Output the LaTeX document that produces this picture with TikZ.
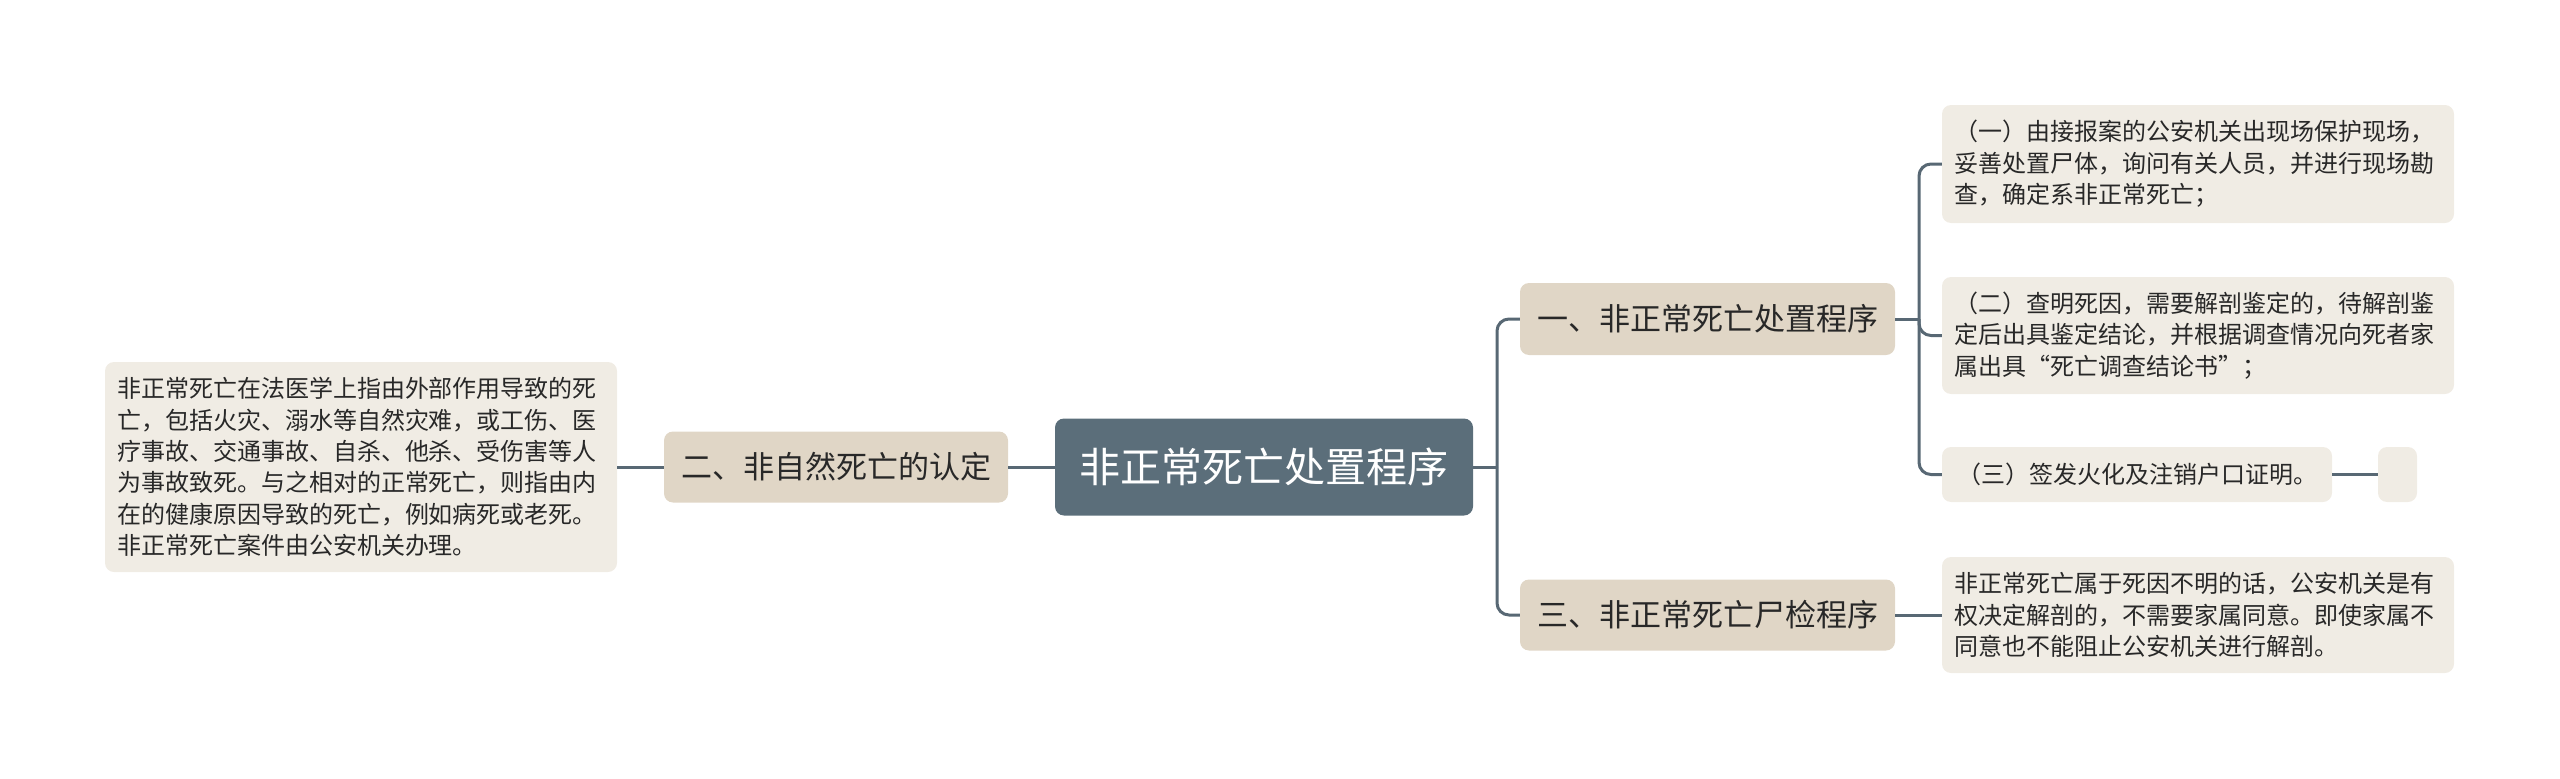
\documentclass[tikz,border=0pt]{standalone}
\usepackage{fontspec}
\setmainfont{Noto Sans CJK SC}
\definecolor{rootc}{RGB}{91,110,122}
\definecolor{branchc}{RGB}{224,214,198}
\definecolor{leafc}{RGB}{240,236,228}
\definecolor{linec}{RGB}{88,104,116}
\definecolor{txtc}{RGB}{40,40,40}
\tikzset{
  rootbox/.style={fill=rootc, text=white, rounded corners=9pt, inner sep=0pt,
    font=\fontsize{41}{48}\selectfont},
  branchbox/.style={fill=branchc, text=txtc, rounded corners=9pt, inner sep=0pt,
    font=\fontsize{31}{38}\selectfont},
  leafbox/.style={fill=leafc, text=txtc, rounded corners=9pt, inner sep=0pt,
    font=\fontsize{24}{31.4}\selectfont},
  conn/.style={draw=linec, line width=3pt, rounded corners=12pt}
}
\begin{document}
\begin{tikzpicture}[x=1pt,y=-1pt]
\useasboundingbox (0,0) rectangle (2560,779);
% root
\node[rootbox, minimum width=418pt, minimum height=97pt] (root) at (1264,467) {非正常死亡处置程序};
% branches
\node[branchbox, minimum width=344pt, minimum height=71pt] (b2) at (836,467) {二、非自然死亡的认定};
\node[branchbox, minimum width=375pt, minimum height=72pt] (b1) at (1707.5,319) {一、非正常死亡处置程序};
\node[branchbox, minimum width=375pt, minimum height=71pt] (b3) at (1707.5,615) {三、非正常死亡尸检程序};
% leaves
\node[leafbox, minimum width=512pt, minimum height=210pt, text width=488pt, align=left] (l0) at (361,467)
  {非正常死亡在法医学上指由外部作用导致的死\\亡，包括火灾、溺水等自然灾难，或工伤、医\\疗事故、交通事故、自杀、他杀、受伤害等人\\为事故致死。与之相对的正常死亡，则指由内\\在的健康原因导致的死亡，例如病死或老死。\\非正常死亡案件由公安机关办理。};
\node[leafbox, minimum width=512pt, minimum height=118pt, text width=488pt, align=left] (l1) at (2198,164)
  {（一）由接报案的公安机关出现场保护现场，\\妥善处置尸体，询问有关人员，并进行现场勘\\查，确定系非正常死亡；};
\node[leafbox, minimum width=512pt, minimum height=117pt, text width=488pt, align=left] (l2) at (2198,335.5)
  {（二）查明死因，需要解剖鉴定的，待解剖鉴\\定后出具鉴定结论，并根据调查情况向死者家\\属出具“死亡调查结论书”；};
\node[leafbox, minimum width=390pt, minimum height=55pt] (l3) at (2137,474.5)
  {（三）签发火化及注销户口证明。};
\node[leafbox, minimum width=39pt, minimum height=55pt] (e3) at (2397.5,474.5) {};
\node[leafbox, minimum width=512pt, minimum height=116pt, text width=488pt, align=left] (l4) at (2198,615)
  {非正常死亡属于死因不明的话，公安机关是有\\权决定解剖的，不需要家属同意。即使家属不\\同意也不能阻止公安机关进行解剖。};
% junctions
\coordinate (j0) at (1497,467);
\coordinate (j1) at (1919,319);
% connectors
\draw[conn] (root.west) -- (b2.east);
\draw[conn] (b2.west) -- (l0.east);
\draw[conn] (root.east) -- (j0);
\draw[conn] (j0) |- (b1.west);
\draw[conn] (j0) |- (b3.west);
\draw[conn] (b1.east) -- (j1);
\draw[conn] (j1) |- (l1.west);
\draw[conn] (j1) |- (l2.west);
\draw[conn] (j1) |- (l3.west);
\draw[conn] (l3.east) -- (e3.west);
\draw[conn] (b3.east) -- (l4.west);
\end{tikzpicture}
\end{document}
